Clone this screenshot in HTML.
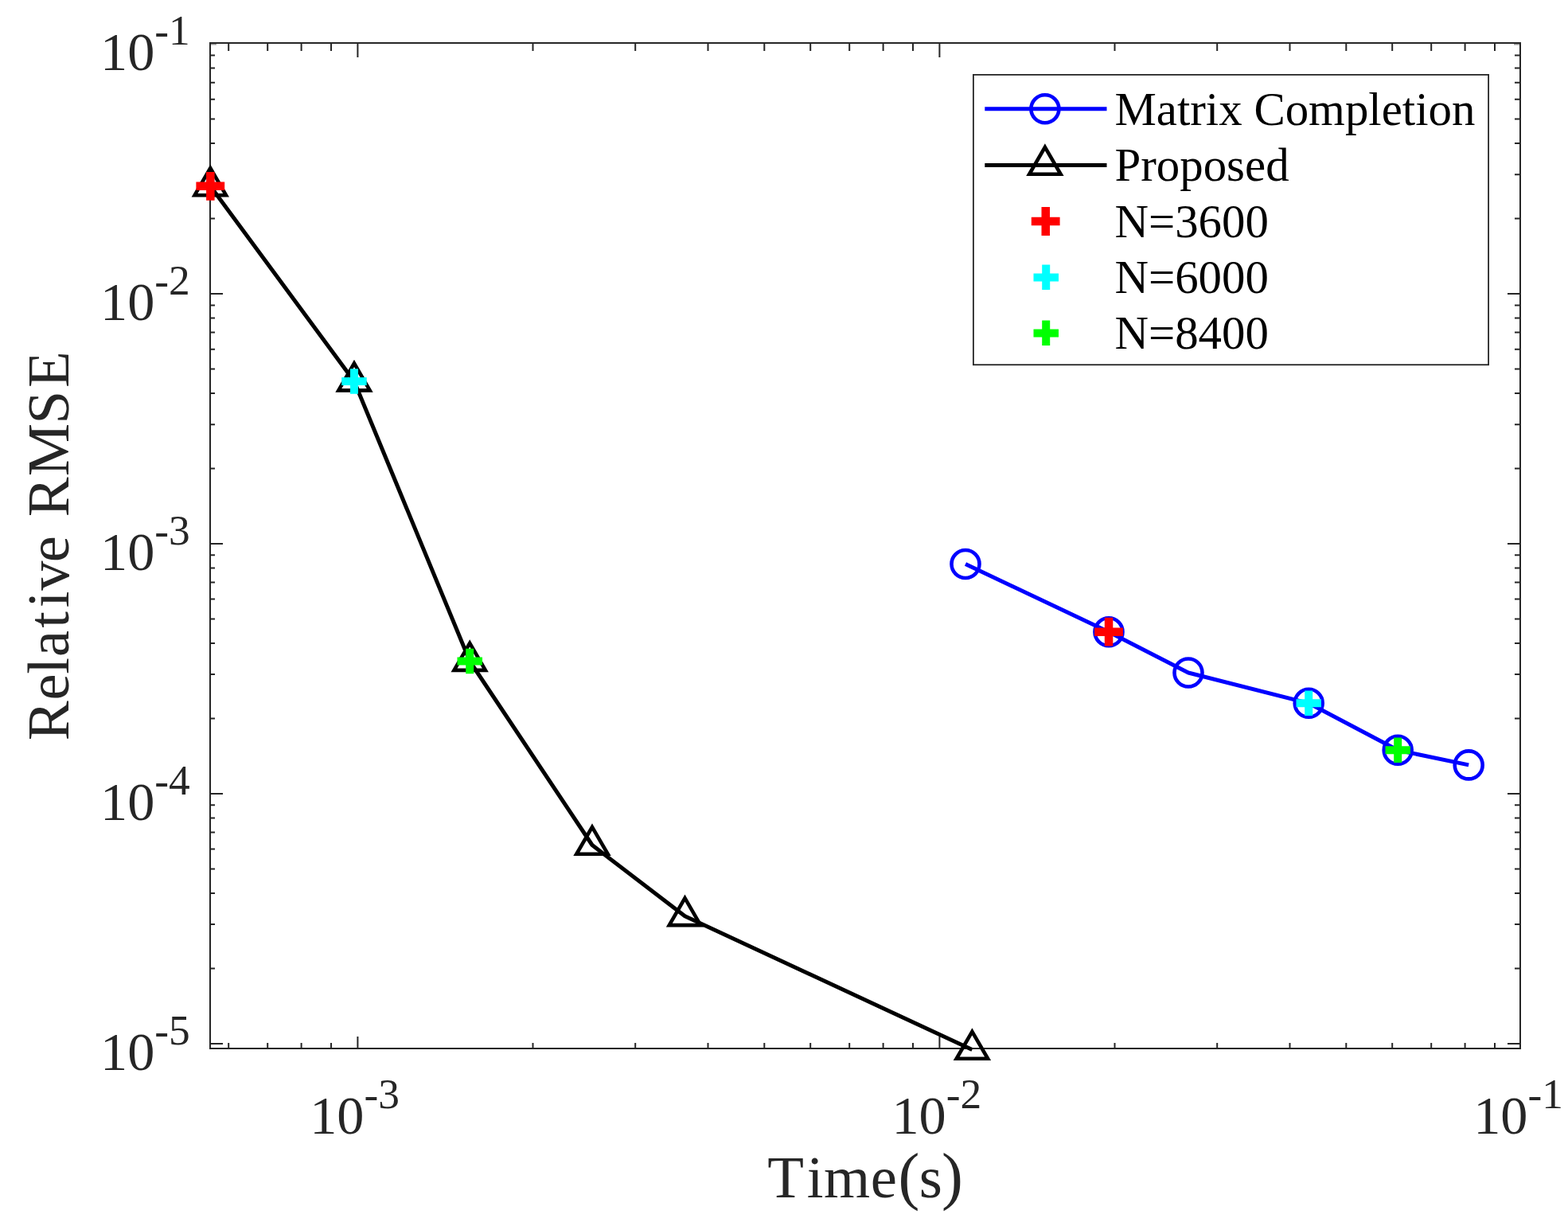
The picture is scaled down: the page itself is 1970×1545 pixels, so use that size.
<!DOCTYPE html>
<html><head><meta charset="utf-8"><title>Relative RMSE vs Time</title>
<style>html,body{margin:0;padding:0;background:#fff;}body{width:1970px;height:1545px;overflow:hidden;}svg{display:block;}</style>
</head><body>
<svg width="1970" height="1545" viewBox="0 0 1970 1545">
<rect width="1970" height="1545" fill="#fff"/>
<path d="M449.4 1316.0L449.4 1302.0M449.4 55.0L449.4 72.0M1180.4 1316.0L1180.4 1302.0M1180.4 55.0L1180.4 72.0M287.2 1316.0L287.2 1310.0M287.2 55.0L287.2 64.0M336.2 1316.0L336.2 1310.0M336.2 55.0L336.2 64.0M378.6 1316.0L378.6 1310.0M378.6 55.0L378.6 64.0M416.0 1316.0L416.0 1310.0M416.0 55.0L416.0 64.0M669.5 1316.0L669.5 1310.0M669.5 55.0L669.5 64.0M798.2 1316.0L798.2 1310.0M798.2 55.0L798.2 64.0M889.5 1316.0L889.5 1310.0M889.5 55.0L889.5 64.0M960.3 1316.0L960.3 1310.0M960.3 55.0L960.3 64.0M1018.2 1316.0L1018.2 1310.0M1018.2 55.0L1018.2 64.0M1067.2 1316.0L1067.2 1310.0M1067.2 55.0L1067.2 64.0M1109.6 1316.0L1109.6 1310.0M1109.6 55.0L1109.6 64.0M1147.0 1316.0L1147.0 1310.0M1147.0 55.0L1147.0 64.0M1400.5 1316.0L1400.5 1310.0M1400.5 55.0L1400.5 64.0M1529.2 1316.0L1529.2 1310.0M1529.2 55.0L1529.2 64.0M1620.5 1316.0L1620.5 1310.0M1620.5 55.0L1620.5 64.0M1691.3 1316.0L1691.3 1310.0M1691.3 55.0L1691.3 64.0M1749.2 1316.0L1749.2 1310.0M1749.2 55.0L1749.2 64.0M1798.2 1316.0L1798.2 1310.0M1798.2 55.0L1798.2 64.0M1840.6 1316.0L1840.6 1310.0M1840.6 55.0L1840.6 64.0M1878.0 1316.0L1878.0 1310.0M1878.0 55.0L1878.0 64.0M265.0 369.0L280.0 369.0M1909.0 369.0L1894.0 369.0M265.0 683.0L280.0 683.0M1909.0 683.0L1894.0 683.0M265.0 996.9L280.0 996.9M1909.0 996.9L1894.0 996.9M265.0 1310.9L280.0 1310.9M1909.0 1310.9L1894.0 1310.9M265.0 1216.4L270.0 1216.4M1909.0 1216.4L1903.0 1216.4M265.0 1161.1L270.0 1161.1M1909.0 1161.1L1903.0 1161.1M265.0 1121.9L270.0 1121.9M1909.0 1121.9L1903.0 1121.9M265.0 1091.5L270.0 1091.5M1909.0 1091.5L1903.0 1091.5M265.0 1066.6L270.0 1066.6M1909.0 1066.6L1903.0 1066.6M265.0 1045.6L270.0 1045.6M1909.0 1045.6L1903.0 1045.6M265.0 1027.4L270.0 1027.4M1909.0 1027.4L1903.0 1027.4M265.0 1011.3L270.0 1011.3M1909.0 1011.3L1903.0 1011.3M265.0 902.4L270.0 902.4M1909.0 902.4L1903.0 902.4M265.0 847.1L270.0 847.1M1909.0 847.1L1903.0 847.1M265.0 807.9L270.0 807.9M1909.0 807.9L1903.0 807.9M265.0 777.5L270.0 777.5M1909.0 777.5L1903.0 777.5M265.0 752.6L270.0 752.6M1909.0 752.6L1903.0 752.6M265.0 731.6L270.0 731.6M1909.0 731.6L1903.0 731.6M265.0 713.4L270.0 713.4M1909.0 713.4L1903.0 713.4M265.0 697.3L270.0 697.3M1909.0 697.3L1903.0 697.3M265.0 588.5L270.0 588.5M1909.0 588.5L1903.0 588.5M265.0 533.2L270.0 533.2M1909.0 533.2L1903.0 533.2M265.0 493.9L270.0 493.9M1909.0 493.9L1903.0 493.9M265.0 463.5L270.0 463.5M1909.0 463.5L1903.0 463.5M265.0 438.7L270.0 438.7M1909.0 438.7L1903.0 438.7M265.0 417.6L270.0 417.6M1909.0 417.6L1903.0 417.6M265.0 399.4L270.0 399.4M1909.0 399.4L1903.0 399.4M265.0 383.4L270.0 383.4M1909.0 383.4L1903.0 383.4M265.0 274.5L270.0 274.5M1909.0 274.5L1903.0 274.5M265.0 219.2L270.0 219.2M1909.0 219.2L1903.0 219.2M265.0 180.0L270.0 180.0M1909.0 180.0L1903.0 180.0M265.0 149.5L270.0 149.5M1909.0 149.5L1903.0 149.5M265.0 124.7L270.0 124.7M1909.0 124.7L1903.0 124.7M265.0 103.7L270.0 103.7M1909.0 103.7L1903.0 103.7M265.0 85.5L270.0 85.5M1909.0 85.5L1903.0 85.5M265.0 69.4L270.0 69.4M1909.0 69.4L1903.0 69.4" stroke="#262626" stroke-width="2" fill="none"/>
<path d="M265 55.8H272M1909 55.8H1902" stroke="#262626" stroke-width="1.6" stroke-opacity="0.5" fill="none"/>
<rect x="264" y="54" width="1646" height="1263" stroke="#262626" stroke-width="2" fill="none"/>
<path d="M1213.0 708.5 L1393.0 793.7 L1493.0 845.0 L1644.2 883.3 L1756.2 942.3 L1845.2 960.9" stroke="#0000ff" stroke-width="5.0" fill="none" stroke-linejoin="round"/>
<path d="M264.3 233.8 L445.0 479.0 L590.2 830.5 L744.0 1061.5 L860.5 1150.8 L1221.4 1318.5" stroke="#000" stroke-width="5.0" fill="none" stroke-linejoin="round"/>
<circle cx="1213.0" cy="708.5" r="17.5" stroke="#0000ff" stroke-width="4.6" fill="none"/>
<circle cx="1393.0" cy="793.7" r="17.5" stroke="#0000ff" stroke-width="4.6" fill="none"/>
<circle cx="1493.0" cy="845.0" r="17.5" stroke="#0000ff" stroke-width="4.6" fill="none"/>
<circle cx="1644.2" cy="883.3" r="17.5" stroke="#0000ff" stroke-width="4.6" fill="none"/>
<circle cx="1756.2" cy="942.3" r="17.5" stroke="#0000ff" stroke-width="4.6" fill="none"/>
<circle cx="1845.2" cy="960.9" r="17.5" stroke="#0000ff" stroke-width="4.6" fill="none"/>
<path d="M264.3 211.1 L284.0 245.2 L244.6 245.2Z" stroke="#000" stroke-width="4.6" fill="none" stroke-linejoin="miter"/>
<path d="M445.0 456.3 L464.7 490.4 L425.3 490.4Z" stroke="#000" stroke-width="4.6" fill="none" stroke-linejoin="miter"/>
<path d="M590.2 807.8 L609.9 841.9 L570.5 841.9Z" stroke="#000" stroke-width="4.6" fill="none" stroke-linejoin="miter"/>
<path d="M744.0 1038.8 L763.7 1072.8 L724.3 1072.8Z" stroke="#000" stroke-width="4.6" fill="none" stroke-linejoin="miter"/>
<path d="M860.5 1128.1 L880.2 1162.1 L840.8 1162.1Z" stroke="#000" stroke-width="4.6" fill="none" stroke-linejoin="miter"/>
<path d="M1221.4 1295.8 L1241.1 1329.8 L1201.7 1329.8Z" stroke="#000" stroke-width="4.6" fill="none" stroke-linejoin="miter"/>
<path d="M246.4 228.6h35.8v10.5h-35.8Z M259.1 215.9h10.5v35.8h-10.5Z" fill="#ff0000"/>
<path d="M1375.1 788.5h35.8v10.5h-35.8Z M1387.8 775.8h10.5v35.8h-10.5Z" fill="#ff0000"/>
<path d="M429.2 474.0h31.5v10h-31.5Z M440.0 463.2h10v31.5h-10Z" fill="#00ffff"/>
<path d="M1628.5 878.3h31.5v10h-31.5Z M1639.2 867.5h10v31.5h-10Z" fill="#00ffff"/>
<path d="M574.5 825.5h31.5v10h-31.5Z M585.2 814.8h10v31.5h-10Z" fill="#00ff00"/>
<path d="M1740.5 937.3h31.5v10h-31.5Z M1751.2 926.5h10v31.5h-10Z" fill="#00ff00"/>
<text x="126.0" y="87.9" font-family="'Liberation Serif', 'Times New Roman', serif" font-size="68.3" fill="#262626">10<tspan font-size="53.4" dy="-31.2">-</tspan><tspan font-size="53.4" dy="-1">1</tspan></text>
<text x="126.0" y="401.9" font-family="'Liberation Serif', 'Times New Roman', serif" font-size="68.3" fill="#262626">10<tspan font-size="53.4" dy="-31.2">-</tspan><tspan font-size="53.4" dy="-1">2</tspan></text>
<text x="126.0" y="715.9" font-family="'Liberation Serif', 'Times New Roman', serif" font-size="68.3" fill="#262626">10<tspan font-size="53.4" dy="-31.2">-</tspan><tspan font-size="53.4" dy="-1">3</tspan></text>
<text x="126.0" y="1029.8" font-family="'Liberation Serif', 'Times New Roman', serif" font-size="68.3" fill="#262626">10<tspan font-size="53.4" dy="-31.2">-</tspan><tspan font-size="53.4" dy="-1">4</tspan></text>
<text x="126.0" y="1343.8" font-family="'Liberation Serif', 'Times New Roman', serif" font-size="68.3" fill="#262626">10<tspan font-size="53.4" dy="-31.2">-</tspan><tspan font-size="53.4" dy="-1">5</tspan></text>
<text x="389.2" y="1423.8" font-family="'Liberation Serif', 'Times New Roman', serif" font-size="68.3" fill="#262626">10<tspan font-size="53.4" dy="-31.2">-</tspan><tspan font-size="53.4" dy="-1">3</tspan></text>
<text x="1120.4" y="1423.8" font-family="'Liberation Serif', 'Times New Roman', serif" font-size="68.3" fill="#262626">10<tspan font-size="53.4" dy="-31.2">-</tspan><tspan font-size="53.4" dy="-1">2</tspan></text>
<text x="1851.2" y="1423.8" font-family="'Liberation Serif', 'Times New Roman', serif" font-size="68.3" fill="#262626">10<tspan font-size="53.4" dy="-31.2">-</tspan><tspan font-size="53.4" dy="-1">1</tspan></text>
<text y="1503.6" font-family="'Liberation Serif', 'Times New Roman', serif" font-size="74.8" fill="#262626" x="964.30 1013.84 1034.91 1093.64 1128.51 1154.76 1183.05">Time<tspan font-size="80.6">(</tspan>s<tspan font-size="80.6">)</tspan></text>
<text transform="translate(86,940) rotate(-90)" font-family="'Liberation Serif', 'Times New Roman', serif" font-size="74.7" fill="#262626" x="9.67 60.51 93.17 114.92 151.18 176.85 198.32 233.86 253.86 290.67 341.71 407.55 452.97" y="0">Relative RMSE</text>
<rect x="1222.9" y="93.9" width="647.2" height="364.3" fill="#fff" stroke="#262626" stroke-width="1.8"/>
<path d="M1237.3 136.8H1390.5" stroke="#0000ff" stroke-width="5.0"/>
<circle cx="1312.9" cy="136.8" r="17.5" stroke="#0000ff" stroke-width="4.6" fill="none"/>
<path d="M1237.3 207.5H1390.5" stroke="#000" stroke-width="5.0"/>
<path d="M1312.9 184.8 L1332.6 218.8 L1293.2 218.8Z" stroke="#000" stroke-width="4.6" fill="none" stroke-linejoin="miter"/>
<path d="M1295.8 272.8h35.8v10.5h-35.8Z M1308.5 260.1h10.5v35.8h-10.5Z" fill="#ff0000"/>
<path d="M1298.5 343.4h31.5v10h-31.5Z M1309.2 332.6h10v31.5h-10Z" fill="#00ffff"/>
<path d="M1298.5 413.4h31.5v10h-31.5Z M1309.2 402.6h10v31.5h-10Z" fill="#00ff00"/>
<text x="1400.4" y="157.1" font-family="'Liberation Serif', 'Times New Roman', serif" font-size="58.9" fill="#000">Matrix Completion</text>
<text x="1400.4" y="226.9" font-family="'Liberation Serif', 'Times New Roman', serif" font-size="58.9" fill="#000">Proposed</text>
<text x="1400.4" y="297.5" font-family="'Liberation Serif', 'Times New Roman', serif" font-size="58.9" fill="#000">N=3600</text>
<text x="1400.4" y="367.7" font-family="'Liberation Serif', 'Times New Roman', serif" font-size="58.9" fill="#000">N=6000</text>
<text x="1400.4" y="437.8" font-family="'Liberation Serif', 'Times New Roman', serif" font-size="58.9" fill="#000">N=8400</text>
</svg>
</body></html>
